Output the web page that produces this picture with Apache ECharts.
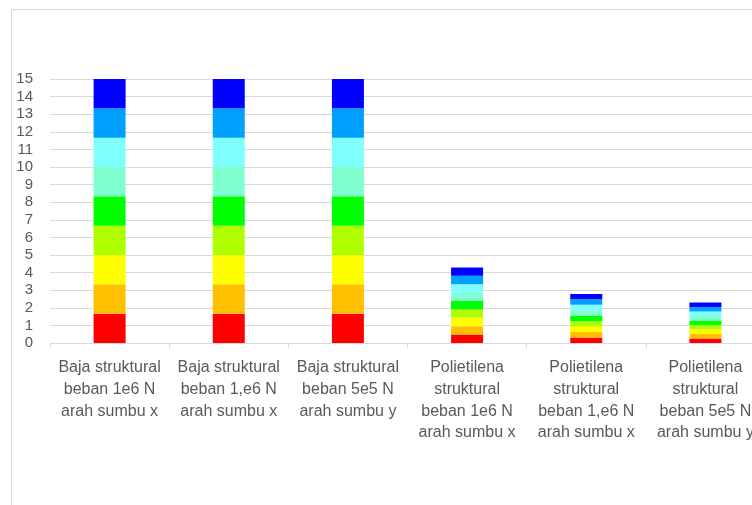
<!DOCTYPE html>
<html>
<head>
<meta charset="utf-8">
<script src="https://cdn.jsdelivr.net/npm/echarts@6/dist/echarts.min.js"></script>
<style>
  html, body { margin: 0; padding: 0; background: #fff; }
  #chart { width: 752px; height: 505px; }
</style>
</head>
<body>
<div id="chart"></div>
<script>
// Load cases
const categories = [
  'Baja struktural\nbeban 1e6 N\narah sumbu x',
  'Baja struktural\nbeban 1,e6 N\narah sumbu x',
  'Baja struktural\nbeban 5e5 N\narah sumbu y',
  'Polietilena\nstruktural\nbeban 1e6 N\narah sumbu x',
  'Polietilena\nstruktural\nbeban 1,e6 N\narah sumbu x',
  'Polietilena\nstruktural\nbeban 5e5 N\narah sumbu y'
];

// Contour band values, bottom (red) to top (blue)
const band1 = [1.667, 1.667, 1.667, 0.477, 0.31, 0.256];
const band2 = [1.667, 1.667, 1.667, 0.477, 0.31, 0.256];
const band3 = [1.667, 1.667, 1.667, 0.477, 0.31, 0.256];
const band4 = [1.667, 1.667, 1.667, 0.477, 0.31, 0.256];
const band5 = [1.667, 1.667, 1.667, 0.477, 0.31, 0.256];
const band6 = [1.667, 1.667, 1.667, 0.477, 0.31, 0.256];
const band7 = [1.667, 1.667, 1.667, 0.477, 0.31, 0.256];
const band8 = [1.667, 1.667, 1.667, 0.477, 0.31, 0.256];
const band9 = [1.667, 1.667, 1.667, 0.477, 0.31, 0.256];

const bands = [band1, band2, band3, band4, band5, band6, band7, band8, band9];
const bandColors = ['#FF0000', '#FFC000', '#FFFF00', '#B0FF00', '#00FF00',
                    '#80FFD0', '#80FFFF', '#00A0FF', '#0000FF'];

const yTicks = { min: 0, max: 15, step: 1 };

const chart = echarts.init(document.getElementById('chart'), null, { renderer: 'canvas' });

const series = bands.map((data, i) => ({
  name: 'Band ' + (i + 1),
  type: 'bar',
  stack: 'total',
  barWidth: 32,
  data: data,
  itemStyle: { color: bandColors[i] },
  emphasis: { disabled: true }
}));

chart.setOption({
  animation: false,
  backgroundColor: '#ffffff',
  textStyle: { fontFamily: 'Liberation Sans, Arial, sans-serif' },
  graphic: [{
    type: 'rect',
    shape: { x: 11.5, y: 9.5, width: 900, height: 700 },
    style: { fill: 'none', stroke: '#d9d9d9', lineWidth: 1 },
    silent: true,
    z: -10
  }],
  grid: {
    left: 50, top: 79, height: 264, width: 715,
    containLabel: false,
    outerBoundsMode: 'none'
  },
  xAxis: {
    type: 'category',
    data: categories,
    axisLine: { lineStyle: { color: '#d9d9d9', width: 1 } },
    axisTick: { show: true, length: 5, alignWithLabel: false, lineStyle: { color: '#d9d9d9' } },
    axisLabel: {
      interval: 0,
      color: '#595959',
      fontSize: 16,
      lineHeight: 21.7,
      margin: 14,
      hideOverlap: false
    }
  },
  yAxis: {
    type: 'value',
    min: yTicks.min,
    max: yTicks.max,
    interval: yTicks.step,
    axisLine: { show: false },
    axisTick: { show: false },
    splitLine: { lineStyle: { color: '#d9d9d9', width: 1 } },
    axisLabel: { color: '#595959', fontSize: 15, margin: 17 }
  },
  series: series
});
</script>
</body>
</html>
